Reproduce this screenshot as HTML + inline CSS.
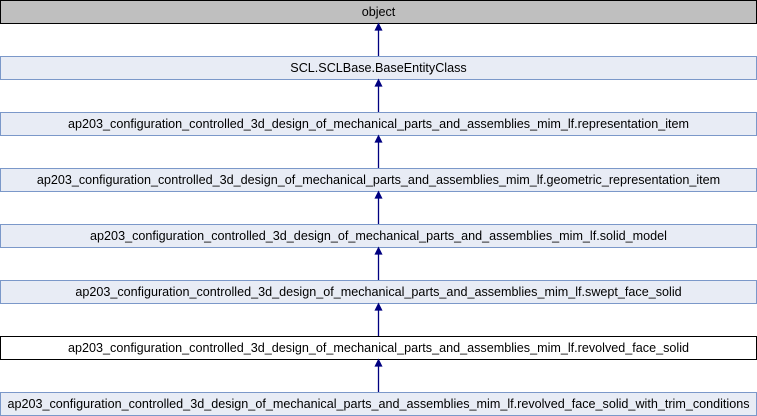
<!DOCTYPE html>
<html><head><style>body{margin:0;background:#fff}svg{display:block}</style></head><body>
<svg width="757" height="416" xmlns="http://www.w3.org/2000/svg" font-family="Liberation Sans, Arial, sans-serif" font-size="12.6">
<g>
<rect x="0.5" y="0.5" width="756" height="23" fill="#bfbfbf" stroke="#000"/>
<text x="378.5" y="16" text-anchor="middle">object</text>
<rect x="0.5" y="56.5" width="756" height="23" fill="#e8ecf5" stroke="#7b98c9"/>
<text x="378.5" y="72" text-anchor="middle">SCL.SCLBase.BaseEntityClass</text>
<rect x="0.5" y="112.5" width="756" height="23" fill="#e8ecf5" stroke="#7b98c9"/>
<text x="378.5" y="128" text-anchor="middle">ap203_configuration_controlled_3d_design_of_mechanical_parts_and_assemblies_mim_lf.representation_item</text>
<rect x="0.5" y="168.5" width="756" height="23" fill="#e8ecf5" stroke="#7b98c9"/>
<text x="378.5" y="184" text-anchor="middle">ap203_configuration_controlled_3d_design_of_mechanical_parts_and_assemblies_mim_lf.geometric_representation_item</text>
<rect x="0.5" y="224.5" width="756" height="23" fill="#e8ecf5" stroke="#7b98c9"/>
<text x="378.5" y="240" text-anchor="middle">ap203_configuration_controlled_3d_design_of_mechanical_parts_and_assemblies_mim_lf.solid_model</text>
<rect x="0.5" y="280.5" width="756" height="23" fill="#e8ecf5" stroke="#7b98c9"/>
<text x="378.5" y="296" text-anchor="middle">ap203_configuration_controlled_3d_design_of_mechanical_parts_and_assemblies_mim_lf.swept_face_solid</text>
<rect x="0.5" y="336.5" width="756" height="23" fill="#fff" stroke="#000"/>
<text x="378.5" y="352" text-anchor="middle">ap203_configuration_controlled_3d_design_of_mechanical_parts_and_assemblies_mim_lf.revolved_face_solid</text>
<rect x="0.5" y="392.5" width="756" height="23" fill="#e8ecf5" stroke="#7b98c9"/>
<text x="378.5" y="408" text-anchor="middle">ap203_configuration_controlled_3d_design_of_mechanical_parts_and_assemblies_mim_lf.revolved_face_solid_with_trim_conditions</text>
</g>
<g stroke="#000080" stroke-width="1.3" fill="#000080">
<line x1="378.5" y1="30" x2="378.5" y2="56"/><polygon points="375.5,30 381.5,30 378.5,24"/>
<line x1="378.5" y1="86" x2="378.5" y2="112"/><polygon points="375.5,86 381.5,86 378.5,80"/>
<line x1="378.5" y1="142" x2="378.5" y2="168"/><polygon points="375.5,142 381.5,142 378.5,136"/>
<line x1="378.5" y1="198" x2="378.5" y2="224"/><polygon points="375.5,198 381.5,198 378.5,192"/>
<line x1="378.5" y1="254" x2="378.5" y2="280"/><polygon points="375.5,254 381.5,254 378.5,248"/>
<line x1="378.5" y1="310" x2="378.5" y2="336"/><polygon points="375.5,310 381.5,310 378.5,304"/>
<line x1="378.5" y1="366" x2="378.5" y2="392"/><polygon points="375.5,366 381.5,366 378.5,360"/>
</g>
</svg>
</body></html>
